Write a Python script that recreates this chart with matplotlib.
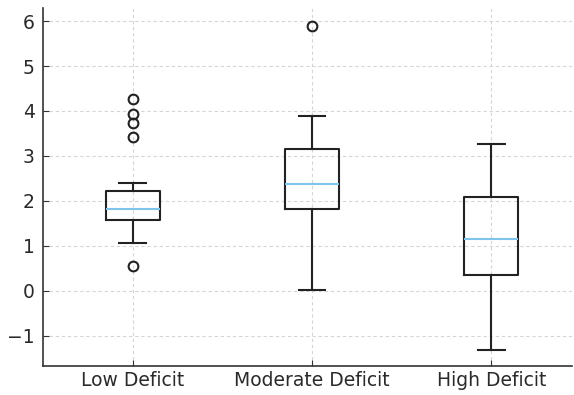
import matplotlib
matplotlib.use("Agg")
import matplotlib.pyplot as plt

categories = ["Low Deficit", "Moderate Deficit", "High Deficit"]
whislo = [1.07, 0.02, -1.31]
q1 = [1.57, 1.83, 0.35]
med = [1.82, 2.38, 1.16]
q3 = [2.21, 3.16, 2.09]
whishi = [2.41, 3.89, 3.26]
fliers = [[4.27, 3.94, 3.73, 3.42, 0.56], [5.90], []]

stats = []
for i, c in enumerate(categories):
    stats.append(dict(label=c, whislo=whislo[i], q1=q1[i], med=med[i],
                      q3=q3[i], whishi=whishi[i], fliers=fliers[i]))

fig = plt.figure(figsize=(5.74, 3.95), dpi=100)
ax = fig.add_axes([43/574, 1 - 366/395, (572-43)/574, (366-8)/395])

lc = "#222222"
ax.bxp(stats, widths=0.3,
       boxprops=dict(color=lc, linewidth=1.5),
       whiskerprops=dict(color=lc, linewidth=1.5),
       capprops=dict(color=lc, linewidth=1.5),
       medianprops=dict(color="#7fc4ec", linewidth=1.5),
       flierprops=dict(marker="o", markerfacecolor="none", markeredgecolor=lc,
                       markersize=7, markeredgewidth=1.5))

ax.set_xlim(0.5, 3.45)
ax.set_ylim(-1.67, 6.29)
ax.set_yticks([-1, 0, 1, 2, 3, 4, 5, 6])
ax.grid(True, linestyle=(0, (3, 2.5)), color="#d5d5d5", linewidth=0.8)
ax.set_axisbelow(True)
for s in ["top", "right"]:
    ax.spines[s].set_visible(False)
for s in ["left", "bottom"]:
    ax.spines[s].set_color("#333333")
    ax.spines[s].set_linewidth(1.2)
ax.tick_params(direction="in", colors="#333333", labelsize=13.5, length=4,
               labelcolor="#2a2a2a")
ax.tick_params(axis="y", pad=6)

fig.savefig("out.png", dpi=100)
